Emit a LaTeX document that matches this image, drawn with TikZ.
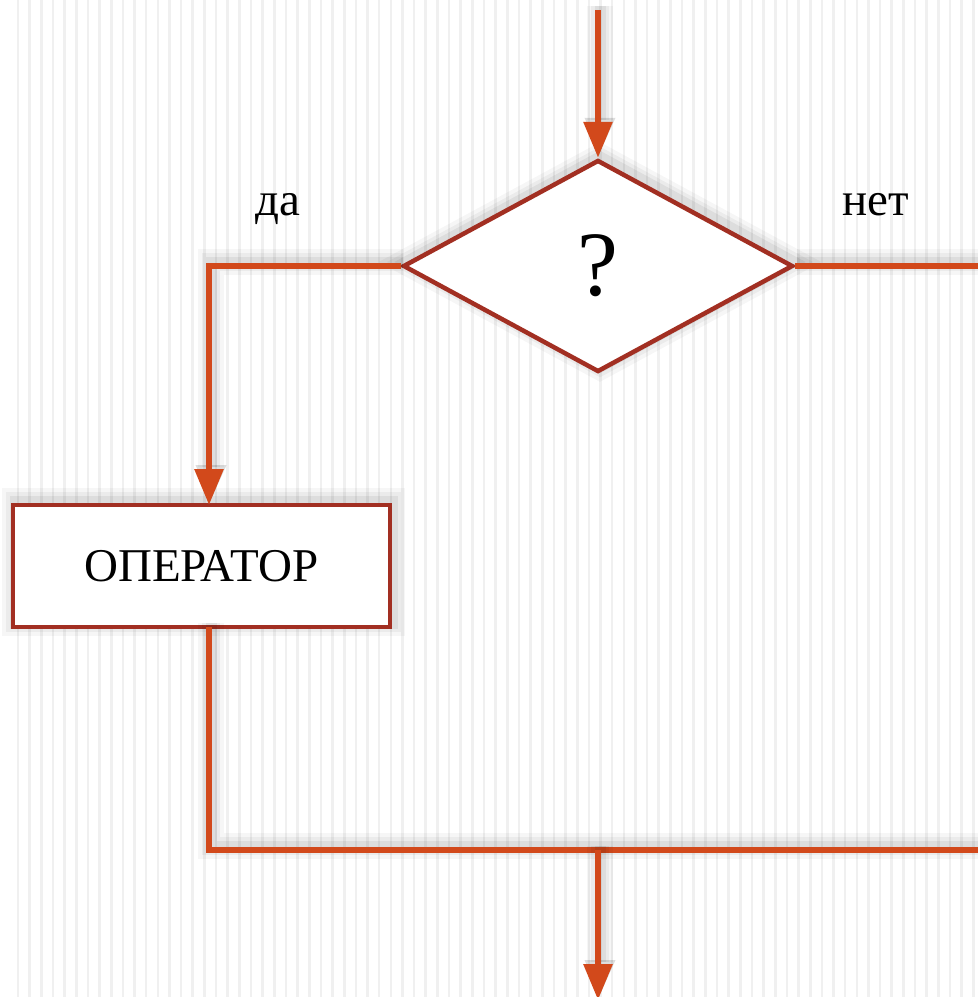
\documentclass[tikz,border=0pt]{standalone}
\usepackage{fontspec}
\setmainfont{Liberation Serif}
\usetikzlibrary{arrows.meta,shapes.geometric}
\definecolor{lineor}{HTML}{D2491B}
\definecolor{bord}{HTML}{A22F22}
\tikzset{
  shad/.style={
    preaction={draw=black,opacity=.035,line width=26,transform canvas={shift={(2,-4)}}},
    preaction={draw=black,opacity=.045,line width=18,transform canvas={shift={(2,-4)}}},
    preaction={draw=black,opacity=.06,line width=11,transform canvas={shift={(2,-4)}}}},
  conn/.style={draw=lineor,line width=6,shad},
  arr/.style={conn,-{Triangle[length=36,width=28]}},
  dia/.style={diamond,draw=bord,line width=4.5,fill=white,inner sep=0,
    minimum width=390,minimum height=212,shad},
  opbox/.style={rectangle,draw=bord,line width=4.5,fill=white,inner sep=0,
    minimum width=377,minimum height=122,shad},
  lbl/.style={font=\fontsize{47}{50}\selectfont,inner sep=0,anchor=base}
}
\begin{document}
\begin{tikzpicture}[x=1pt,y=-1pt]
\useasboundingbox (0,0) rectangle (978,997);
\fill[white] (0,0) rectangle (978,997);
\foreach \i in {0,...,84} {
  \fill[black!6] ({18+11.65*\i-1.3},0) rectangle ({18+11.65*\i+1.3},997);
}
% nodes
\node[dia,font=\fontsize{92}{92}\selectfont] (d) at (598,266) {\raisebox{-3pt}{?}};
\node[opbox,font=\fontsize{47}{50}\selectfont] (op) at (201.5,566) {ОПЕРАТОР};
\node[lbl] (yes) at (278,215) {да};
\node[lbl] (no) at (876,215) {нет};
% coordinates
\coordinate (top) at (598,10);
\coordinate (lx) at (209,266);
\coordinate (rx) at (978,266);
\coordinate (opin) at (209,505);
\coordinate (opout) at (209,627);
\coordinate (bl) at (209,850);
\coordinate (br) at (978,850);
\coordinate (bm) at (598,850);
\coordinate (bend) at (598,1000);
% connectors
\draw[arr] (top) -- (d.north);
\draw[arr] (d.west) -- (lx) -- (opin);
\draw[conn] (d.east) -- (rx);
\draw[conn] (opout) -- (bl) -- (br);
\draw[arr] (bm) -- (bend);
\end{tikzpicture}
\end{document}
